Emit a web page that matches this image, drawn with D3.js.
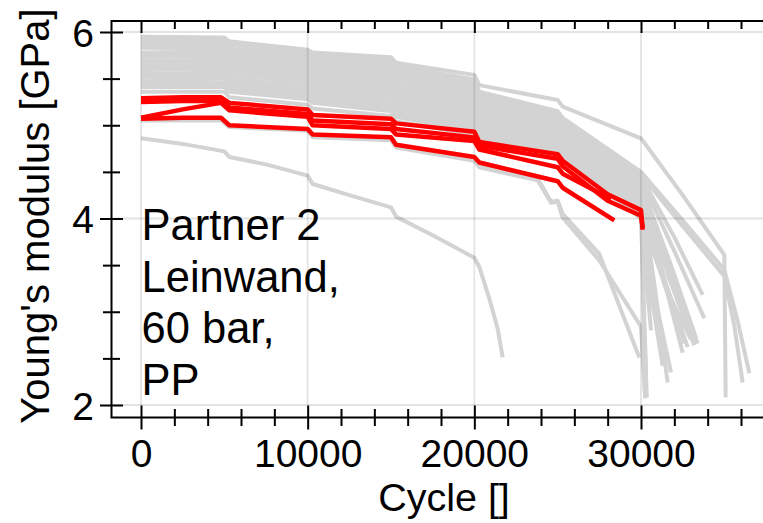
<!DOCTYPE html>
<html>
<head>
<meta charset="utf-8">
<script src="https://cdn.jsdelivr.net/npm/d3@7"></script>
<style>
  html, body { margin: 0; padding: 0; background: #fff; overflow: hidden; }
  text { font-family: "Liberation Sans", Arial, sans-serif; fill: #000; }
</style>
</head>
<body>
<svg id="chart" width="763" height="523"></svg>
<script>
// Cycle positions shared by the reference-group curves (load step changes every 5000 cycles)
const knotCycles = [0, 5000, 5300, 10000, 10300, 15000, 15300, 20000, 20300, 25000, 25300, 30000];

// Young's modulus [GPa] of the reference group at knotCycles
const bandValues = [
  [5.95, 5.94, 5.90, 5.81, 5.78, 5.73, 5.67, 5.54, 5.43, 5.27, 5.20, 4.86],
  [5.93, 5.92, 5.88, 5.79, 5.76, 5.70, 5.64, 5.49, 5.36, 5.15, 5.08, 4.50],
  [5.91, 5.90, 5.86, 5.77, 5.73, 5.67, 5.61, 5.46, 5.33, 5.13, 5.06, 4.47],
  [5.87, 5.87, 5.82, 5.74, 5.70, 5.64, 5.58, 5.44, 5.31, 5.11, 5.04, 4.45],
  [5.85, 5.84, 5.80, 5.71, 5.67, 5.61, 5.55, 5.40, 5.28, 5.08, 5.01, 4.42],
  [5.83, 5.82, 5.77, 5.68, 5.65, 5.58, 5.52, 5.37, 5.25, 5.06, 4.99, 4.40],
  [5.78, 5.79, 5.74, 5.65, 5.62, 5.56, 5.50, 5.34, 5.22, 5.03, 4.96, 4.37],
  [5.76, 5.75, 5.71, 5.62, 5.59, 5.52, 5.46, 5.31, 5.19, 5.01, 4.94, 4.34],
  [5.74, 5.73, 5.68, 5.60, 5.56, 5.49, 5.43, 5.27, 5.17, 4.98, 4.91, 4.31],
  [5.70, 5.69, 5.65, 5.56, 5.53, 5.46, 5.40, 5.24, 5.13, 4.96, 4.89, 4.29],
  [5.68, 5.67, 5.62, 5.54, 5.50, 5.43, 5.37, 5.22, 5.11, 4.94, 4.87, 4.26],
  [5.64, 5.64, 5.60, 5.51, 5.47, 5.40, 5.34, 5.18, 5.08, 4.92, 4.85, 4.24],
  [5.62, 5.61, 5.56, 5.48, 5.44, 5.37, 5.31, 5.15, 5.05, 4.89, 4.82, 4.21],
  [5.60, 5.59, 5.54, 5.46, 5.42, 5.34, 5.28, 5.12, 5.02, 4.86, 4.79, 4.18],
  [5.56, 5.55, 5.50, 5.42, 5.38, 5.31, 5.25, 5.09, 4.99, 4.84, 4.77, 4.16],
  [5.53, 5.52, 5.47, 5.39, 5.35, 5.27, 5.21, 5.06, 4.96, 4.81, 4.74, 4.13],
  [5.51, 5.50, 5.45, 5.37, 5.33, 5.25, 5.19, 5.03, 4.94, 4.79, 4.72, 4.10],
  [5.47, 5.46, 5.42, 5.33, 5.30, 5.21, 5.15, 4.99, 4.91, 4.77, 4.70, 4.07],
  [5.45, 5.44, 5.39, 5.31, 5.27, 5.18, 5.12, 4.96, 4.88, 4.74, 4.67, 4.05],
  [5.41, 5.41, 5.36, 5.28, 5.24, 5.15, 5.09, 4.93, 4.85, 4.72, 4.65, 4.02],
  [5.36, 5.36, 5.30, 5.22, 5.18, 5.10, 5.04, 4.90, 4.82, 4.70, 4.62, 4.00]
];

// Failure phase of each reference curve after 30000 cycles: [cycle, modulus]
const bandTails = [
  [[32500, 4.25], [35000, 3.61], [35080, 2.08]],
  [[32500, 3.98], [35000, 3.45], [35800, 2.90], [36500, 2.34]],
  [[32500, 3.92], [35000, 3.38], [35600, 2.85], [36100, 2.24]],
  [[32000, 3.80], [33700, 3.18]],
  [[32000, 3.65], [33800, 2.93]],
  [[31800, 3.40], [33400, 2.66]],
  [[31800, 3.50], [33300, 2.72]],
  [[31300, 3.40], [32500, 2.56]],
  [[31700, 3.35], [33200, 2.64]],
  [[30800, 3.30], [31600, 2.24]],
  [[30300, 3.40], [30600, 2.80]],
  [[31500, 3.30], [32800, 2.62]],
  [[30600, 3.20], [31300, 2.42]],
  [[30150, 3.00], [30350, 2.08]],
  [[31600, 3.42], [33200, 2.74]],
  [[31400, 3.30], [32600, 2.66]],
  [[30250, 3.50], [30500, 3.00]],
  [[30900, 3.10], [31800, 2.35]],
  [[30150, 3.20], [30300, 2.35]],
  [[31500, 3.25], [33000, 2.70]],
  [[30400, 3.40], [31000, 2.90]]
];

// Reference curves that fail early: [cycle, modulus]
const earlyGray = [
  [[0, 5.06], [4800, 5.06], [5300, 4.99], [10000, 4.95], [10300, 4.88], [15000, 4.85], [15300, 4.77],
   [20000, 4.63], [20300, 4.56], [23800, 4.43], [24600, 4.18], [25000, 4.19], [25300, 4.05],
   [27500, 3.62], [29900, 2.51]],
  [[0, 5.05], [4800, 5.05], [5300, 4.98], [10000, 4.94], [10300, 4.87], [15000, 4.84], [15300, 4.76],
   [20000, 4.62], [20300, 4.55], [23800, 4.41], [24600, 4.17], [25000, 4.18], [25300, 4.01],
   [27500, 3.55], [30000, 2.84], [30250, 2.07]],
  [[0, 4.86], [2500, 4.80], [5000, 4.72], [5300, 4.66], [7500, 4.58], [10000, 4.46], [10300, 4.37],
   [12500, 4.25], [15000, 4.12], [15300, 4.02], [17500, 3.82], [20000, 3.58], [20300, 3.48],
   [20900, 3.14], [21400, 2.82], [21700, 2.51]]
];

// Partner 2 specimens (Leinwand, 60 bar, PP): [cycle, modulus]
const partnerSeries = [
  [[0, 5.29], [2500, 5.30], [4800, 5.30], [5300, 5.24], [10000, 5.17], [10300, 5.11], [15000, 5.07],
   [15300, 5.02], [20000, 4.93], [20300, 4.82], [25000, 4.69], [25300, 4.62], [28000, 4.26],
   [30000, 4.09], [30100, 3.88]],
  [[0, 5.25], [2500, 5.26], [4800, 5.26], [5300, 5.19], [10000, 5.12], [10300, 5.05], [15000, 5.01],
   [15300, 4.96], [20000, 4.87], [20300, 4.78], [25000, 4.64], [25300, 4.56], [28000, 4.19],
   [30000, 4.03], [30100, 3.90]],
  [[0, 5.08], [2500, 5.17], [4800, 5.24], [5300, 5.16], [10000, 5.09], [10300, 5.00], [15000, 4.96],
   [15300, 4.90], [20000, 4.83], [20300, 4.74], [25000, 4.55], [25300, 4.48], [28200, 4.21]],
  [[0, 5.07], [2500, 5.08], [4800, 5.08], [5300, 5.00], [10000, 4.96], [10300, 4.90], [15000, 4.87],
   [15300, 4.79], [20000, 4.66], [20300, 4.60], [25000, 4.40], [25300, 4.33], [28400, 3.98]]
];

const xMajorTicks = [0, 10000, 20000, 30000];
const xMinorTicks = [2000, 4000, 6000, 8000, 12000, 14000, 16000, 18000, 22000, 24000, 26000, 28000, 32000, 34000, 36000, 38000];
const yMajorTicks = [2, 4, 6];
const yMinorTicks = [2.5, 3, 3.5, 4.5, 5, 5.5];
const xTitle = "Cycle []";
const yTitle = "Young's modulus [GPa]";
const noteLines = ["Partner 2", "Leinwand,", "60 bar,", "PP"];

// ---- layout ----
const svg = d3.select("#chart");
const frame = { left: 111.5, top: 21, bottom: 417.5, right: 790 };
const x = d3.scaleLinear().domain([0, 30000]).range([141, 641]);
const y = d3.scaleLinear().domain([2, 6]).range([405, 32]);

const line = d3.line()
  .x(d => x(d[0]))
  .y(d => y(d[1]))
  .curve(d3.curveLinear);

const bandCurves = bandValues.map((vals, i) =>
  vals.map((v, k) => [knotCycles[k], v]).concat(bandTails[i]));

// reference group
const grayG = svg.append("g")
  .attr("fill", "none")
  .attr("stroke", "#d3d3d3")
  .attr("stroke-width", 4)
  .attr("stroke-linejoin", "round");
grayG.selectAll("path.band").data(bandCurves).join("path")
  .attr("class", "band").attr("d", line);
grayG.selectAll("path.early").data(earlyGray).join("path")
  .attr("class", "early").attr("d", line);

// grid
const grid = svg.append("g")
  .attr("stroke", "rgba(0,0,0,0.11)")
  .attr("stroke-width", 1.8);
grid.selectAll("line.v").data(xMajorTicks).join("line")
  .attr("class", "v")
  .attr("x1", d => x(d)).attr("x2", d => x(d))
  .attr("y1", y(6)).attr("y2", y(2));
grid.selectAll("line.h").data(yMajorTicks).join("line")
  .attr("class", "h")
  .attr("x1", frame.left).attr("x2", frame.right)
  .attr("y1", d => y(d)).attr("y2", d => y(d));

// highlighted specimens
svg.append("g")
  .attr("fill", "none")
  .attr("stroke", "#ff0000")
  .attr("stroke-width", 4.5)
  .attr("stroke-linejoin", "round")
  .selectAll("path").data(partnerSeries).join("path")
  .attr("d", line);

// ---- axes ----
function styleAxis(g) {
  g.select(".domain").remove();
  g.selectAll(".tick line").attr("stroke", "#000").attr("stroke-width", 2);
  g.selectAll(".tick text")
    .style("font-family", '"Liberation Sans", Arial, sans-serif')
    .attr("fill", "#000");
}
const noLabel = () => "";

// bottom axis: ticks straddle the axis line
const bottomMajor = svg.append("g").attr("transform", `translate(0,${frame.bottom})`)
  .call(d3.axisBottom(x).tickValues(xMajorTicks).tickSize(12).tickFormat(d3.format("d")))
  .call(styleAxis);
bottomMajor.selectAll(".tick text")
  .attr("y", 467 - frame.bottom).attr("dy", null)
  .attr("font-size", 39);
svg.append("g").attr("transform", `translate(0,${frame.bottom})`)
  .call(d3.axisTop(x).tickValues(xMajorTicks).tickSize(12).tickFormat(noLabel)).call(styleAxis);
svg.append("g").attr("transform", `translate(0,${frame.bottom})`)
  .call(d3.axisBottom(x).tickValues(xMinorTicks).tickSize(8.5).tickFormat(noLabel)).call(styleAxis);
svg.append("g").attr("transform", `translate(0,${frame.bottom})`)
  .call(d3.axisTop(x).tickValues(xMinorTicks).tickSize(8.5).tickFormat(noLabel)).call(styleAxis);

// top axis: inward ticks only
svg.append("g").attr("transform", `translate(0,${frame.top})`)
  .call(d3.axisBottom(x).tickValues(xMajorTicks).tickSize(12).tickFormat(noLabel)).call(styleAxis);
svg.append("g").attr("transform", `translate(0,${frame.top})`)
  .call(d3.axisBottom(x).tickValues(xMinorTicks).tickSize(8).tickFormat(noLabel)).call(styleAxis);

// left axis: ticks straddle the axis line
const leftMajor = svg.append("g").attr("transform", `translate(${frame.left},0)`)
  .call(d3.axisLeft(y).tickValues(yMajorTicks).tickSize(11.5).tickFormat(d3.format("d")))
  .call(styleAxis);
leftMajor.selectAll(".tick text")
  .attr("x", 94 - frame.left).attr("dy", "0.36em")
  .attr("font-size", 39);
svg.append("g").attr("transform", `translate(${frame.left},0)`)
  .call(d3.axisRight(y).tickValues(yMajorTicks).tickSize(11.5).tickFormat(noLabel)).call(styleAxis);
svg.append("g").attr("transform", `translate(${frame.left},0)`)
  .call(d3.axisLeft(y).tickValues(yMinorTicks).tickSize(8.5).tickFormat(noLabel)).call(styleAxis);
svg.append("g").attr("transform", `translate(${frame.left},0)`)
  .call(d3.axisRight(y).tickValues(yMinorTicks).tickSize(8.5).tickFormat(noLabel)).call(styleAxis);

// plot frame
svg.append("path")
  .attr("d", `M${frame.right},${frame.top}H${frame.left}V${frame.bottom}H${frame.right}`)
  .attr("fill", "none").attr("stroke", "#000").attr("stroke-width", 2);

// axis titles
svg.append("text")
  .attr("x", 444).attr("y", 511)
  .attr("text-anchor", "middle")
  .attr("font-size", 39.5)
  .text(xTitle);
svg.append("text")
  .attr("transform", "translate(49,216) rotate(-90)")
  .attr("text-anchor", "middle")
  .attr("font-size", 40)
  .text(yTitle);

// specimen note
svg.append("g").selectAll("text").data(noteLines).join("text")
  .attr("x", 141.5)
  .attr("y", (d, i) => 240 + i * 51.7)
  .attr("font-size", 43.5)
  .text(d => d);
</script>
</body>
</html>
